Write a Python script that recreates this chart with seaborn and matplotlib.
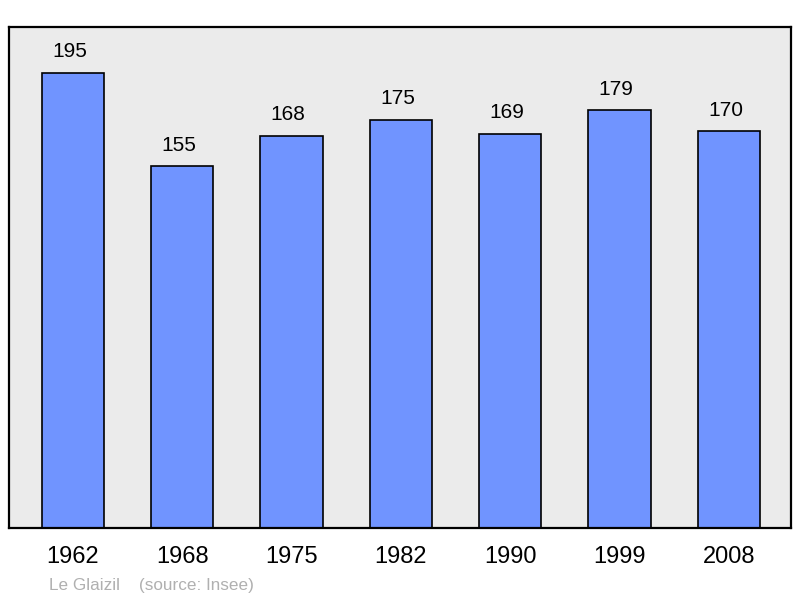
import pandas as pd
import numpy as np
import matplotlib.pyplot as plt
import seaborn as sns

years = ["1962", "1968", "1975", "1982", "1990", "1999", "2008"]
population = [195, 155, 168, 175, 169, 179, 170]

df = pd.DataFrame({"year": years, "pop": population})

sns.set_style("white")
plt.rcParams['font.family'] = ['Liberation Sans', 'DejaVu Sans']
plt.rcParams['text.color'] = 'black'
plt.rcParams['xtick.color'] = 'black'

fig = plt.figure(figsize=(8, 5.98), dpi=100)
ax = fig.add_axes([0.01125, 0.117, 0.9775, 0.838])
ax.set_facecolor("#ebebeb")

sns.barplot(x="year", y="pop", data=df, color="#7094ff", saturation=1,
            width=0.57, edgecolor="black", linewidth=1.2, ax=ax)

for i, v in enumerate(population):
    ax.text(i - 0.03, v + 5, str(v), ha="center", va="bottom", fontsize=15, color="black")

ax.set_xlim(-0.585, 6.57)
ax.set_ylim(0, 214.7)
ax.set_yticks([])
ax.set_xlabel("")
ax.set_ylabel("")
ax.tick_params(axis="x", length=0, labelsize=17, pad=13, labelcolor="black")
for s in ax.spines.values():
    s.set_color("black")
    s.set_linewidth(1.6)

fig.text(0.061, 0.013, "Le Glaizil    (source: Insee)", color="#b0b0b0", fontsize=12.3)

plt.savefig("out.png", dpi=100)
